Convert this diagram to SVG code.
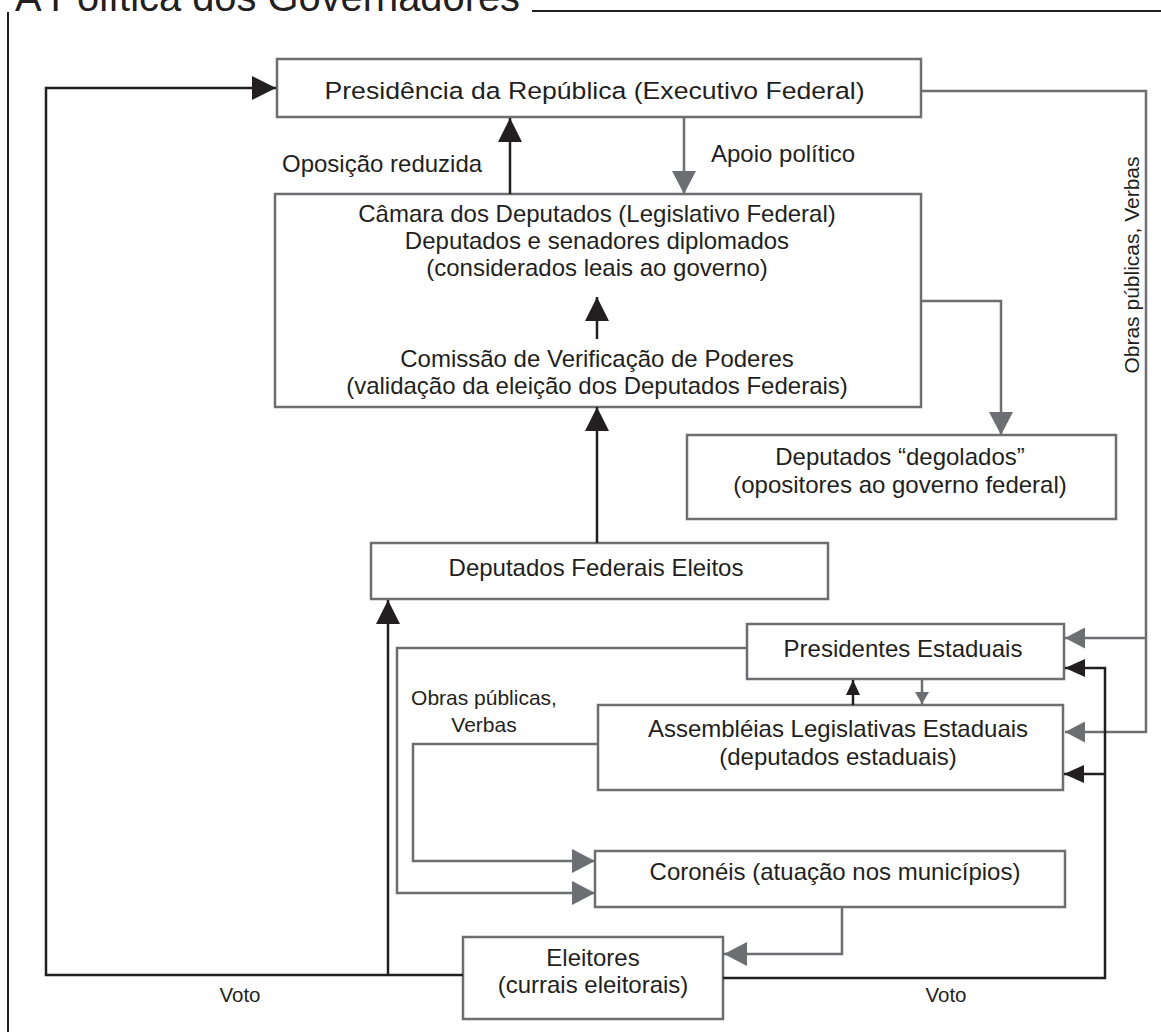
<svg xmlns="http://www.w3.org/2000/svg" width="1161" height="1032" viewBox="0 0 1161 1032">
<style>
text{font-family:"Liberation Sans",Arial,sans-serif;fill:#231f20;font-size:24px}
.c{text-anchor:middle}
.box{fill:#fff;stroke:#6d6e71;stroke-width:2.5}
.k{fill:none;stroke:#231f20;stroke-width:2.5}
.g{fill:none;stroke:#6d6e71;stroke-width:2.5}
.sm{font-size:21px}
.v{font-size:20.5px}
</style>
<defs>
<marker id="ab" markerUnits="userSpaceOnUse" orient="auto" markerWidth="24" markerHeight="24" refX="24" refY="12"><path d="M0,0 L24,12 L0,24 Z" fill="#231f20"/></marker>
<marker id="ag" markerUnits="userSpaceOnUse" orient="auto" markerWidth="24" markerHeight="24" refX="23" refY="12"><path d="M0,0 L23,12 L0,24 Z" fill="#6d6e71"/></marker>
<marker id="abs" markerUnits="userSpaceOnUse" orient="auto" markerWidth="20" markerHeight="18" refX="20" refY="9"><path d="M0,0 L20,9 L0,18 Z" fill="#231f20"/></marker>
<marker id="ags" markerUnits="userSpaceOnUse" orient="auto" markerWidth="20" markerHeight="21" refX="20" refY="10.5"><path d="M0,0 L20,10.5 L0,21 Z" fill="#6d6e71"/></marker>
<marker id="abt" markerUnits="userSpaceOnUse" orient="auto" markerWidth="15" markerHeight="14" refX="15" refY="7"><path d="M0,0 L15,7 L0,14 Z" fill="#231f20"/></marker>
<marker id="agt" markerUnits="userSpaceOnUse" orient="auto" markerWidth="12" markerHeight="14" refX="12" refY="7"><path d="M0,0 L12,7 L0,14 Z" fill="#6d6e71"/></marker>
</defs>
<rect width="1161" height="1032" fill="#fff"/>
<g id="frame">
<path d="M8,12 V1032" stroke="#231f20" stroke-width="2" fill="none"/>
<path d="M532,11 H1161" stroke="#231f20" stroke-width="2" fill="none"/>
<text x="15" y="11" style="font-size:40px" textLength="505" lengthAdjust="spacingAndGlyphs">A Política dos Governadores</text>
</g>
<g id="presidencia"><rect class="box" x="277" y="59" width="644" height="58"/><text class="c" x="594.5" y="99" style="font-size:24.5px" textLength="540" lengthAdjust="spacingAndGlyphs">Presidência da República (Executivo Federal)</text></g>
<g id="camara"><rect class="box" x="275" y="194" width="646" height="213"/>
<text class="c" x="597" y="222">Câmara dos Deputados (Legislativo Federal)</text>
<text class="c" x="597" y="249">Deputados e senadores diplomados</text>
<text class="c" x="597" y="276">(considerados leais ao governo)</text>
<text class="c" x="597" y="367">Comissão de Verificação de Poderes</text>
<text class="c" x="597" y="394">(validação da eleição dos Deputados Federais)</text></g>
<g id="degolados"><rect class="box" x="687" y="435" width="429" height="84"/>
<text class="c" x="900" y="465">Deputados “degolados”</text>
<text class="c" x="900" y="493">(opositores ao governo federal)</text></g>
<g id="depfed"><rect class="box" x="371" y="543" width="457" height="56"/><text class="c" x="596" y="576">Deputados Federais Eleitos</text></g>
<g id="presidentes"><rect class="box" x="747" y="624" width="317" height="55"/><text class="c" x="903" y="657">Presidentes Estaduais</text></g>
<g id="assembleias"><rect class="box" x="598" y="705" width="465" height="85"/>
<text class="c" x="838" y="737">Assembléias Legislativas Estaduais</text>
<text class="c" x="838" y="765">(deputados estaduais)</text></g>
<g id="coroneis"><rect class="box" x="595" y="851" width="470" height="56"/><text class="c" x="835" y="880">Coronéis (atuação nos municípios)</text></g>
<g id="eleitores"><rect class="box" x="463" y="937" width="260" height="82"/>
<text class="c" x="593" y="966">Eleitores</text>
<text class="c" x="593" y="993">(currais eleitorais)</text></g>
<g id="connectors">
<path class="k" d="M463,975 H46 V88 H276" marker-end="url(#ab)"/>
<path class="k" d="M388,975 V600" marker-end="url(#ab)"/>
<path class="k" d="M597,543 V407" marker-end="url(#ab)"/>
<path class="k" d="M597,339 V297" marker-end="url(#ab)"/>
<path class="k" d="M510,194 V118" marker-end="url(#ab)"/>
<path class="g" d="M684,117 V194" marker-end="url(#ag)"/>
<path class="g" d="M921,301 H1001 V435" marker-end="url(#ag)"/>
<path class="g" d="M921,91 H1146 V732 H1065" marker-end="url(#ags)"/>
<path class="g" d="M1146,638 H1065" marker-end="url(#ags)"/>
<path class="k" d="M723,978 H1105 V668 H1065" marker-end="url(#abs)"/>
<path class="k" d="M1105,774 H1064" marker-end="url(#abs)"/>
<path class="g" d="M747,648 H397 V893 H595" marker-end="url(#ag)"/>
<path class="g" d="M598,744 H413 V861 H595" marker-end="url(#ag)"/>
<path class="g" d="M842,907 V954 H724" marker-end="url(#ag)"/>
<path class="k" d="M853,705 V680" marker-end="url(#abt)"/>
<path class="g" d="M922,679 V704" marker-end="url(#agt)"/>
<text x="282" y="172">Oposição reduzida</text>
<text x="711" y="162">Apoio político</text>
<text class="c sm" transform="translate(1139,265) rotate(-90)" x="0" y="0">Obras públicas, Verbas</text>
<text class="c sm" x="484" y="705">Obras públicas,</text>
<text class="c sm" x="484" y="732">Verbas</text>
<text class="c v" x="240" y="1002">Voto</text>
<text class="c v" x="946" y="1002">Voto</text>
</g>
</svg>
